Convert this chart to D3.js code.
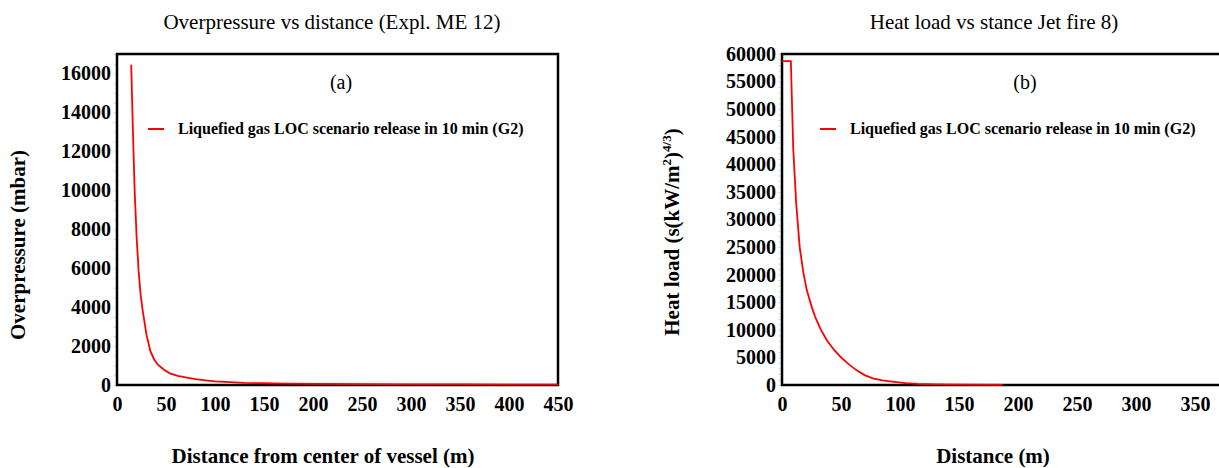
<!DOCTYPE html>
<html>
<head>
<meta charset="utf-8">
<script src="https://cdn.jsdelivr.net/npm/d3@7"></script>
<style>
  body { margin: 0; background: #fff; }
</style>
</head>
<body>
<svg width="1219" height="468"></svg>
<script>
// Overpressure vs distance (a)
const overDist = [14.5, 16, 18, 20, 22, 24, 26, 30, 34, 38, 42, 48, 54, 62, 70, 80, 90, 100, 115, 130, 150, 170, 200, 250, 300, 350, 400, 450];
const overVal  = [16450, 13500, 10000, 7600, 5900, 4700, 3900, 2600, 1750, 1300, 1030, 780, 600, 470, 390, 300, 240, 190, 150, 110, 90, 70, 60, 45, 35, 28, 22, 18];

// Heat load vs distance (b)
const heatDist = [0, 7.5, 9.5, 12, 15, 18, 21, 25, 28, 33, 38, 44, 50, 57, 63, 70, 77, 85, 95, 105, 115, 130, 150, 187];
const heatVal  = [58700, 58700, 43000, 33000, 25000, 20500, 17200, 14300, 12400, 10000, 8100, 6400, 5000, 3700, 2700, 1800, 1200, 850, 580, 350, 200, 100, 50, 20];

const overXTicks = [0, 50, 100, 150, 200, 250, 300, 350, 400, 450];
const overYTicks = [0, 2000, 4000, 6000, 8000, 10000, 12000, 14000, 16000];
const heatXTicks = [0, 50, 100, 150, 200, 250, 300, 350];
const heatYTicks = [0, 5000, 10000, 15000, 20000, 25000, 30000, 35000, 40000, 45000, 50000, 55000, 60000];

const legendText = "Liquefied gas LOC scenario release in 10 min (G2)";

const FONT = "Liberation Serif, Times New Roman, serif";
const svg = d3.select("svg").attr("font-family", FONT);

function panel(opt) {
  const g = svg.append("g");
  const x = d3.scaleLinear().domain(opt.xDomain).range([opt.left, opt.right]);
  const y = d3.scaleLinear().domain(opt.yDomain).range([opt.bottom, opt.top]);

  // faint minor ticks
  g.append("g")
    .attr("transform", `translate(${opt.left},0)`)
    .call(d3.axisLeft(y).ticks(opt.minorY).tickSize(4).tickFormat(""))
    .call(a => a.select(".domain").remove())
    .call(a => a.selectAll("line").attr("stroke", "#ddd"));

  const styleTicks = a => {
    a.select(".domain").remove();
    a.attr("font-family", FONT).attr("font-size", 20).attr("font-weight", "bold");
    a.selectAll("text").attr("fill", "#000").attr("font-family", FONT);
  };

  g.append("g")
    .attr("transform", `translate(0,${opt.bottom})`)
    .call(d3.axisBottom(x).tickValues(opt.xTicks).tickSize(0).tickPadding(12).tickFormat(d3.format("d")))
    .call(styleTicks);

  g.append("g")
    .attr("transform", `translate(${opt.left},0)`)
    .call(d3.axisLeft(y).tickValues(opt.yTicks).tickSize(0).tickPadding(6).tickFormat(d3.format("d")))
    .call(styleTicks);

  // frame
  g.append("rect")
    .attr("x", opt.left).attr("y", opt.top)
    .attr("width", opt.right - opt.left).attr("height", opt.bottom - opt.top)
    .attr("fill", "none").attr("stroke", "#000").attr("stroke-width", 2.5);

  const line = d3.line().x(d => x(d[0])).y(d => y(d[1]));
  g.append("path")
    .datum(d3.zip(opt.xs, opt.ys))
    .attr("d", line)
    .attr("fill", "none").attr("stroke", "#f00").attr("stroke-width", 1.8);

  g.append("text").attr("x", opt.titleX).attr("y", 29)
    .attr("text-anchor", "middle").attr("font-size", 21).text(opt.title);

  g.append("text").attr("x", opt.tagX).attr("y", 89)
    .attr("text-anchor", "middle").attr("font-size", 20).text(opt.tag);

  // legend
  g.append("line").attr("x1", opt.legX).attr("x2", opt.legX + 16)
    .attr("y1", 129).attr("y2", 129).attr("stroke", "#f00").attr("stroke-width", 2);
  g.append("text").attr("x", opt.legX + 30).attr("y", 134)
    .attr("font-size", 16).attr("font-weight", "bold").text(legendText);

  g.append("text").attr("x", opt.xTitleX).attr("y", 463)
    .attr("text-anchor", "middle").attr("font-size", 21).attr("font-weight", "bold")
    .text(opt.xTitle);

  const yt = g.append("text")
    .attr("transform", `translate(${opt.yTitleX},${opt.yTitleY}) rotate(-90)`)
    .attr("text-anchor", "middle").attr("font-size", 21).attr("font-weight", "bold");
  opt.yTitle(yt);
}

panel({
  xDomain: [0, 450], yDomain: [0, 17000],
  left: 117, right: 558, top: 54, bottom: 385,
  xs: overDist, ys: overVal,
  xTicks: overXTicks, yTicks: overYTicks, minorY: 34,
  title: "Overpressure vs distance (Expl. ME 12)", titleX: 332,
  tag: "(a)", tagX: 341, legX: 148,
  xTitle: "Distance from center of vessel (m)", xTitleX: 323,
  yTitleX: 25, yTitleY: 245,
  yTitle: t => t.text("Overpressure (mbar)")
});

panel({
  xDomain: [0, 400], yDomain: [0, 60000],
  left: 782, right: 1254, top: 54, bottom: 385,
  xs: heatDist, ys: heatVal,
  xTicks: heatXTicks, yTicks: heatYTicks, minorY: 60,
  title: "Heat load vs stance Jet fire 8)", titleX: 994,
  tag: "(b)", tagX: 1025, legX: 820,
  xTitle: "Distance (m)", xTitleX: 993,
  yTitleX: 679, yTitleY: 232,
  yTitle: t => {
    t.append("tspan").text("Heat load (s(kW/m");
    t.append("tspan").attr("font-size", 13).attr("dy", -8).text("2");
    t.append("tspan").attr("font-size", 21).attr("dy", 8).text(")");
    t.append("tspan").attr("font-size", 13).attr("dy", -8).text("4/3");
    t.append("tspan").attr("font-size", 21).attr("dy", 8).text(")");
  }
});
</script>
</body>
</html>
